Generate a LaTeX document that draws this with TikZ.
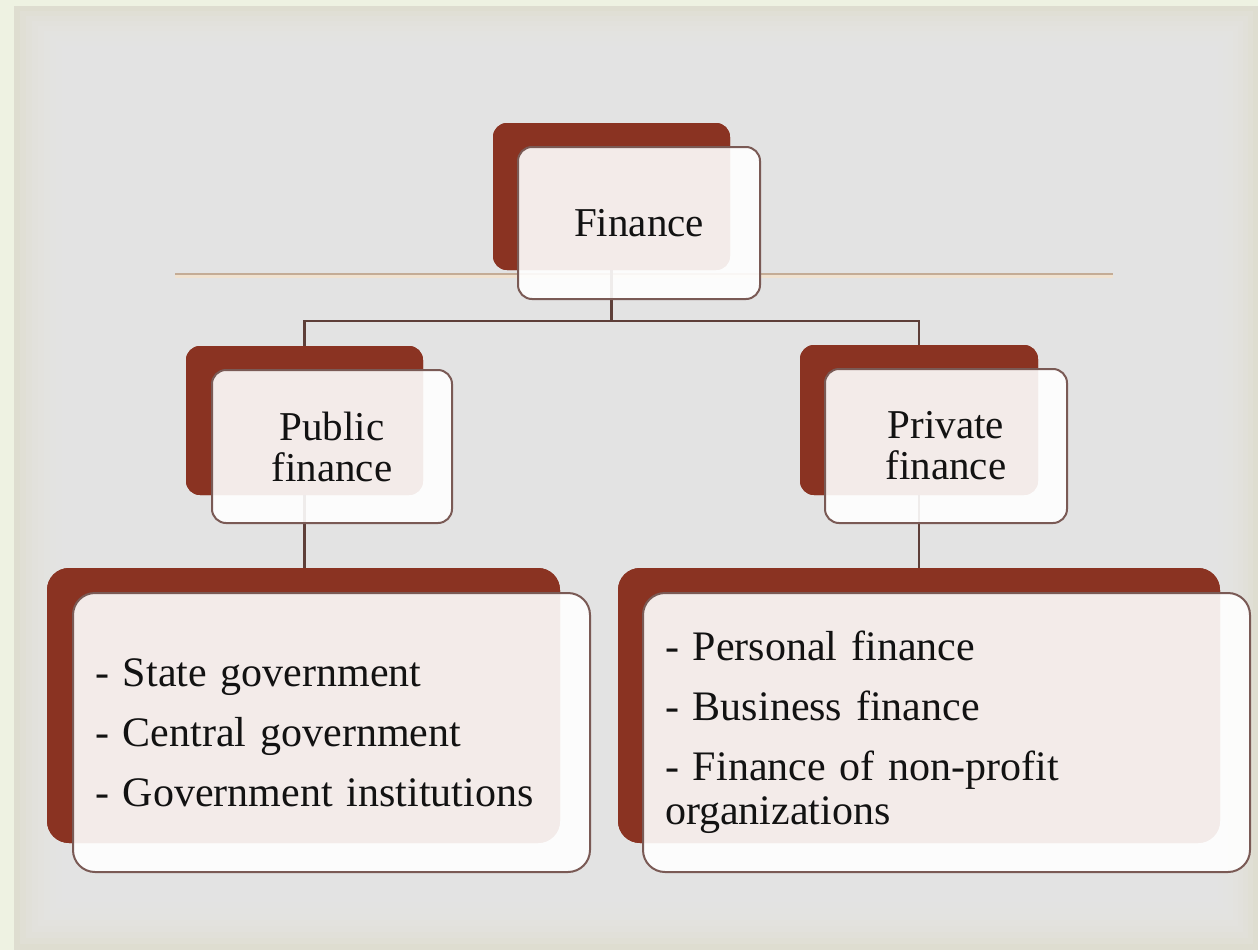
\documentclass[tikz,border=0pt]{standalone}
\usepackage{fontspec}
\setmainfont{Liberation Serif}
\definecolor{outerband}{HTML}{EEF2E2}
\definecolor{panelbeige}{HTML}{DCDBC9}
\definecolor{panelgray}{HTML}{E7E7E7}
\definecolor{darkred}{HTML}{8A3322}
\definecolor{frameline}{HTML}{7A5A55}
\definecolor{connline}{HTML}{5E3F39}
\definecolor{tanline}{HTML}{C4AC96}
\definecolor{tanhalo}{HTML}{F0E2D0}
\definecolor{textblack}{HTML}{121212}
\begin{document}
\begin{tikzpicture}[x=1pt,y=-1pt,
  backbox/.style={fill=darkred, draw=none, rounded corners=14pt, inner sep=0pt},
  frontbox/.style={draw=frameline, line width=2pt, fill=white, fill opacity=0.9,
    text opacity=1, text=textblack, rounded corners=14pt, inner sep=0pt,
    align=center, font=\fontsize{41}{41}\selectfont},
  lowerback/.style={backbox, rounded corners=22pt},
  lowerfront/.style={frontbox, rounded corners=22pt, align=left,
    font=\fontsize{42}{44}\selectfont},
  conn/.style={draw=connline, line width=2.2pt},
  accenthalo/.style={draw=tanhalo, line width=5pt},
  accentline/.style={draw=tanline, line width=1.8pt}]
\useasboundingbox (0,0) rectangle (1258,950);
% background
\fill[outerband] (0,0) rectangle (1258,950);
\fill[panelbeige] (14,6) rectangle (1258,950);
\foreach \i in {0,...,11} {
  \fill[panelgray, opacity=0.24] (14+\i*6, 6+\i*5) rectangle (1258-\i*5, 950-\i*6);
}
% decorative horizontal line
\coordinate (lineL) at (175,274);
\coordinate (lineR) at (1113,274);
\draw[accenthalo] ([yshift=-1.5pt]lineL) -- ([yshift=-1.5pt]lineR);
\draw[accentline] (lineL) -- (lineR);
% back boxes
\node[backbox, minimum width=237, minimum height=147] (fb) at (611.5,196.5) {};
\node[backbox, minimum width=237, minimum height=149] (pb) at (304.5,420.5) {};
\node[backbox, minimum width=238, minimum height=150] (rb) at (919,420) {};
\node[lowerback, minimum width=513, minimum height=275] (lb) at (303.5,705.5) {};
\node[lowerback, minimum width=602, minimum height=275] (qb) at (919,705.5) {};
% connectors (behind the translucent front boxes)
\coordinate (bus) at (611.5,321);
\draw[conn] (fb.center) -- (bus);
\draw[conn] (bus) -| (pb.center);
\draw[conn] (bus) -| (rb.center);
\draw[conn] (pb.center) -- (pb.center |- lb.center);
\draw[conn] (rb.center) -- (rb.center |- qb.center);
% redraw back boxes over connectors
\node[backbox, minimum width=237, minimum height=147] at (fb.center) {};
\node[backbox, minimum width=237, minimum height=149] at (pb.center) {};
\node[backbox, minimum width=238, minimum height=150] at (rb.center) {};
\node[lowerback, minimum width=513, minimum height=275] at (lb.center) {};
\node[lowerback, minimum width=602, minimum height=275] at (qb.center) {};
% front boxes
\node[frontbox, minimum width=242, minimum height=152] (ff) at (639,223) {Finance};
\node[frontbox, minimum width=240, minimum height=153] (pf) at (332,446.5) {Public\\finance};
\node[frontbox, minimum width=242, minimum height=154] (rf) at (946,446) {Private\\finance};
\node[lowerfront, minimum width=517, minimum height=279, text width=473] (lf) at (331.5,732.5)
  {- State government\\[16pt]- Central government\\[16pt]- Government institutions};
\node[lowerfront, minimum width=607, minimum height=279, text width=563] (qf) at (946.5,732.5)
  {- Personal finance\\[16pt]- Business finance\\[16pt]- Finance of non-profit\\organizations};
\end{tikzpicture}
\end{document}
